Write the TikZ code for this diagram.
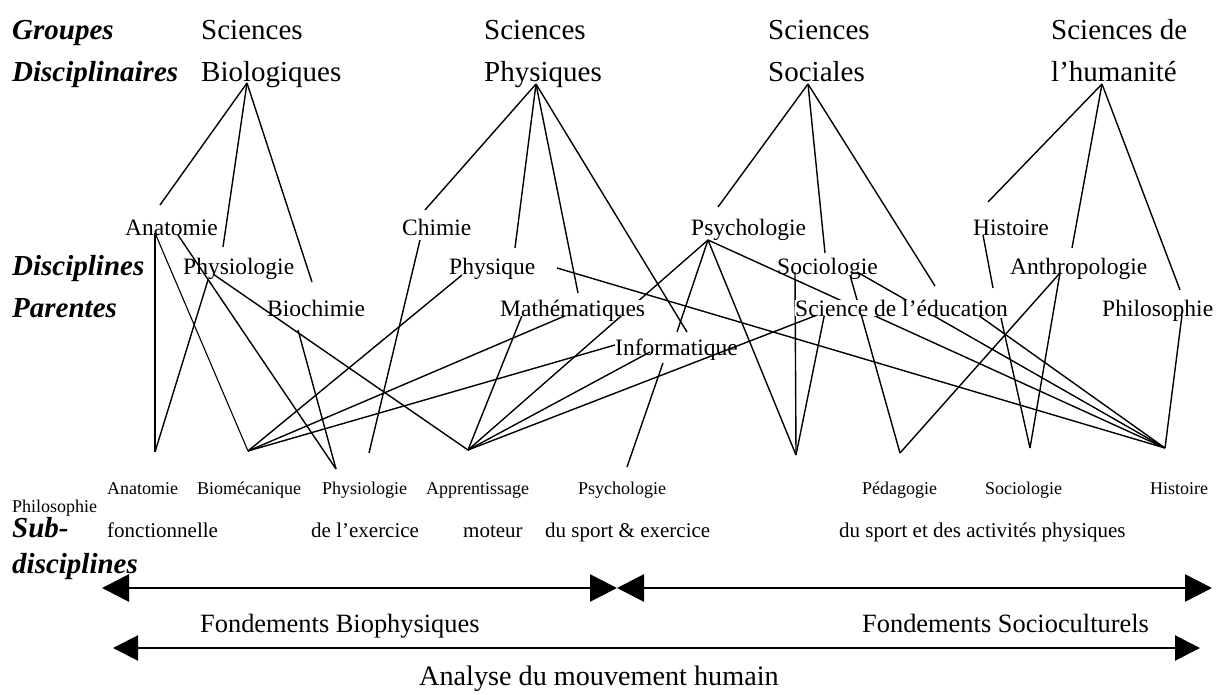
\documentclass[tikz,border=0pt]{standalone}
\usepackage{fontspec}
\setmainfont{Liberation Serif}
\usetikzlibrary{arrows.meta}

\begin{document}
\begin{tikzpicture}
            [x=1pt, y=-1pt,
             txt/.style={anchor=base west, inner sep=0pt},
             grp/.style={txt, font=\fontsize{29}{29}\selectfont},
             head/.style={txt, font=\fontsize{29}{29}\selectfont\bfseries\itshape},
             par/.style={txt, font=\fontsize{23.5}{23.5}\selectfont},
             hide/.style={par, fill=white, text depth=0pt},
             subA/.style={txt, font=\fontsize{18}{18}\selectfont},
             subB/.style={txt, font=\fontsize{21}{21}\selectfont},
             found/.style={txt, font=\fontsize{26.4}{26.4}\selectfont},
             link/.style={line width=1.4pt},
             span/.style={line width=2.7pt, {Triangle[length=27pt,width=27pt]}-{Triangle[length=27pt,width=27pt]}}]
            \useasboundingbox (0,0) rectangle (1229,695);

            % row titles
            \node[head] (grpA) at (12,40) {Groupes};
            \node[head] (grpB) at (12,82) {Disciplinaires};
            \node[head] (parA) at (12,276) {Disciplines};
            \node[head] (parB) at (12,317) {Parentes};
            \node[head] (sdA) at (12,537) {Sub-};
            \node[head] (sdB) at (12,573) {disciplines};

            % groups
            \node[grp] (bio1) at (201,40) {Sciences};
            \node[grp] (bio2) at (201,82) {Biologiques};
            \node[grp] (phy1) at (484,40) {Sciences};
            \node[grp] (phy2) at (484,82) {Physiques};
            \node[grp] (soc1) at (768,40) {Sciences};
            \node[grp] (soc2) at (768,82) {Sociales};
            \node[grp] (hum1) at (1051,40) {Sciences de};
            \node[grp] (hum2) at (1051,82) {l’humanité};

            % parent disciplines
            \node[par] (anat) at (125,236) {Anatomie};
            \node[par] (physio) at (183,274) {Physiologie};
            \node[par] (bioch) at (267,316) {Biochimie};
            \node[par] (chim) at (402,236) {Chimie};
            \node[par] (phys) at (449,274) {Physique};
            \node[par] (info) at (615,355) {Informatique};
            \node[par] (psy) at (691,236) {Psychologie};
            \node[par] (socio) at (777,274) {Sociologie};
            \node[par] (hist) at (973,236) {Histoire};
            \node[par] (anth) at (1010,274) {Anthropologie};
            \node[par] (philo) at (1102,316) {Philosophie};

            % sub-disciplines
            \node[subA] (sPhilo) at (12,512) {Philosophie};
            \node[subA] (sAnat) at (107,494) {Anatomie};
            \node[subA] (sBiom) at (197,494) {Biomécanique};
            \node[subA] (sPhysio) at (322,494) {Physiologie};
            \node[subA] (sAppr) at (426,494) {Apprentissage};
            \node[subA] (sPsy) at (578,494) {Psychologie};
            \node[subA] (sPeda) at (862,494) {Pédagogie};
            \node[subA] (sSocio) at (985,494) {Sociologie};
            \node[subA] (sHist) at (1150,494) {Histoire};
            \node[subB] (sAnat2) at (107,537) {fonctionnelle};
            \node[subB] (sPhysio2) at (311,537) {de l’exercice};
            \node[subB] (sAppr2) at (463,537) {moteur};
            \node[subB] (sPsy2) at (545,537) {du sport \& exercice};
            \node[subB] (sSoc2) at (839,537) {du sport et des activités physiques};

            % ends under the groups
            \coordinate (bioH) at (247,83);
            \coordinate (phyH) at (536,84);
            \coordinate (socH) at (808,84);
            \coordinate (humH) at (1102,84);

            % ends above the parent disciplines
            \coordinate (anatT) at (160,205);
            \coordinate (physioT) at (223,247);
            \coordinate (biochT) at (312,282);
            \coordinate (chimT) at (425,210);
            \coordinate (physT) at (515,248);
            \coordinate (mathT) at (578,293);
            \coordinate (infoT) at (687,332);
            \coordinate (infoT2) at (677,332);
            \coordinate (psyT) at (718,207);
            \coordinate (socioT) at (825,253);
            \coordinate (educT) at (935,286);
            \coordinate (histT) at (988,202);
            \coordinate (anthT) at (1072,248);
            \coordinate (philoT) at (1180,290);

            % ends under the parent disciplines
            \coordinate (anatL) at (155,233);
            \coordinate (anatR) at (178,235);
            \coordinate (physioL) at (208,280);
            \coordinate (physioR) at (213,274);
            \coordinate (biochB) at (298,330);
            \coordinate (chimB) at (420,240);
            \coordinate (physL) at (462,275);
            \coordinate (physR) at (557,268);
            \coordinate (mathL) at (523,313);
            \coordinate (mathR) at (567,315);
            \coordinate (infoL) at (615,345);
            \coordinate (infoM) at (650,352);
            \coordinate (infoR) at (663,363);
            \coordinate (psyB) at (708,240);
            \coordinate (socioL) at (795,272);
            \coordinate (socioM) at (850,275);
            \coordinate (socioR) at (857,272);
            \coordinate (educL) at (825,312);
            \coordinate (educM) at (978,315);
            \coordinate (educR) at (1001,318);
            \coordinate (histB) at (983,235);
            \coordinate (histE) at (993,288);
            \coordinate (anthB) at (1060,273);
            \coordinate (philoB) at (1182,315);

            % ends above the sub-disciplines
            \coordinate (afH) at (155,452);
            \coordinate (bmH) at (248,451);
            \coordinate (peH) at (336,469);
            \coordinate (chimE) at (369,453);
            \coordinate (amH) at (468,450);
            \coordinate (psE) at (627,467);
            \coordinate (ssH) at (796,455);
            \coordinate (pdH) at (900,453);
            \coordinate (soH) at (1030,448);
            \coordinate (hiH) at (1165,448);

            \path[link] (bioH) edge (anatT) edge (physioT) edge (biochT);
            \path[link] (phyH) edge (chimT) edge (physT) edge (mathT) edge (infoT);
            \path[link] (socH) edge (psyT) edge (socioT) edge (educT);
            \path[link] (humH) edge (histT) edge (anthT) edge (philoT);

            \path[link, line width=2.4pt] (anatL) edge (afH);
            \path[link] (physioL) edge (afH);
            \path[link, line width=1.1pt] (anatL) edge (bmH);
            \path[link] (anatR) edge (peH);
            \path[link] (physioR) edge (amH);
            \path[link] (biochB) edge (peH);
            \path[link] (chimB) edge (chimE);
            \path[link] (bmH) edge (physL) edge (mathR) edge (infoL);
            \path[link] (amH) edge (mathL) edge (psyB) edge (infoM) edge (educL);
            \path[link] (psyB) edge (infoT2) edge (ssH) edge (hiH);
            \path[link] (infoR) edge (psE);
            \path[link] (ssH) edge (socioL) edge (educL);
            \path[link] (hiH) edge (physR) edge (socioR) edge (educM) edge (philoB);
            \path[link] (pdH) edge (socioM) edge (anthB);
            \path[link] (soH) edge (anthB) edge (educR);
            \path[link] (histB) edge (histE);

            % these two hide the lines behind them
            \node[hide] (math) at (500,316) {Mathématiques};
            \node[hide] (educ) at (795,316) {Science de l’éducation};

            % foundations
            \coordinate (barL) at (102,588);
            \coordinate (barM) at (617,588);
            \coordinate (barR) at (1212,588);
            \coordinate (allL) at (113,648);
            \coordinate (allR) at (1200,648);
            \path[span] (barL) edge (barM);
            \path[span] (barM) edge (barR);
            \path[line width=2.1pt, {Triangle[length=25pt,width=25pt]}-{Triangle[length=25pt,width=25pt]}] (allL) edge (allR);
            \node[found] (fBio) at (200,632) {Fondements Biophysiques};
            \node[found] (fSoc) at (862,632) {Fondements Socioculturels};
            \node[txt, font=\fontsize{28.2}{28.2}\selectfont] (amhum) at (419,685) {Analyse du mouvement humain};

            % \draw[red] (0,0) rectangle (1229,695);
        \end{tikzpicture}
\end{document}
